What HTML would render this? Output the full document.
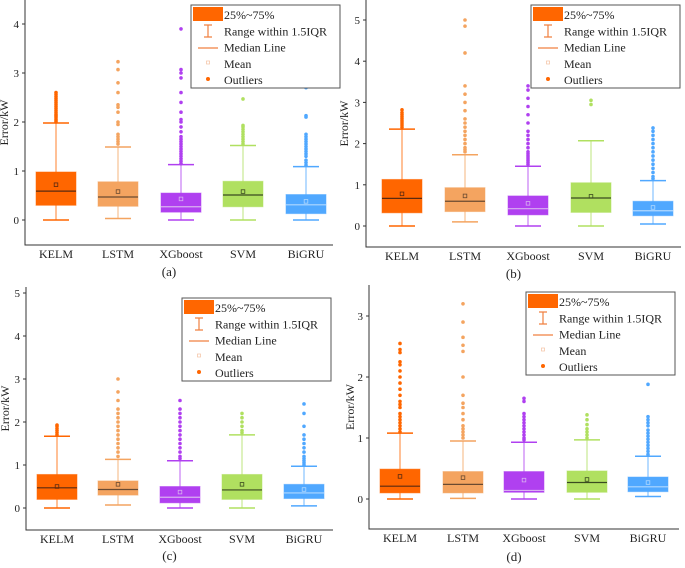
<!DOCTYPE html>
<html><head><meta charset="utf-8">
<style>
html,body{margin:0;padding:0;background:#fff;}
svg{display:block;font-family:"Liberation Serif",serif;}
</style></head>
<body>
<svg id="fig" width="685" height="568" viewBox="0 0 685 568"></svg>
<script>
const categories = ["KELM","LSTM","XGboost","SVM","BiGRU"];
const colors = ["#ff6600","#f4a460","#b040f0","#b0e060","#50a8ff"];
const medianColors = ["#5a2a10","#6a4a30","#d8b0f0","#3a4a20","#b0d8ff"];
const yTicksA = [0,1,2,3,4];
const yTicksB = [0,1,2,3,4,5];
const yTicksC = [0,1,2,3,4,5];
const yTicksD = [0,1,2,3];
// stats per category: [q1, median, q3, mean, whiskerLow, whiskerHigh]
const statsA = [[0.30,0.59,0.98,0.72,0,1.98],[0.28,0.47,0.78,0.58,0.03,1.49],[0.16,0.27,0.55,0.43,0,1.13],[0.27,0.51,0.79,0.58,0,1.52],[0.13,0.31,0.52,0.38,0,1.09]];
const statsB = [[0.32,0.67,1.13,0.78,0,2.35],[0.35,0.60,0.93,0.73,0.10,1.73],[0.27,0.42,0.73,0.55,0,1.45],[0.33,0.68,1.05,0.72,0,2.07],[0.25,0.37,0.60,0.45,0.05,1.10]];
const statsC = [[0.20,0.47,0.78,0.50,0,1.67],[0.30,0.43,0.63,0.55,0.07,1.13],[0.12,0.25,0.50,0.37,0,1.10],[0.20,0.42,0.78,0.55,0,1.70],[0.22,0.35,0.55,0.43,0.05,0.97]];
const statsD = [[0.10,0.21,0.49,0.37,0,1.08],[0.10,0.24,0.45,0.35,0.01,0.95],[0.11,0.14,0.45,0.31,0,0.93],[0.11,0.27,0.46,0.32,0,0.97],[0.12,0.20,0.36,0.27,0.04,0.70]];
const outliersA = [
 [2.0,2.03,2.06,2.1,2.13,2.16,2.2,2.24,2.28,2.32,2.36,2.4,2.44,2.48,2.52,2.56,2.6],
 [1.55,1.6,1.65,1.7,1.75,1.95,2.0,2.2,2.3,2.35,2.6,2.8,3.07,3.23],
 [1.15,1.2,1.25,1.3,1.35,1.4,1.45,1.5,1.55,1.6,1.65,1.7,1.8,1.9,2.0,2.05,2.2,2.4,2.6,2.9,3.0,3.07,3.9],
 [1.55,1.6,1.65,1.7,1.75,1.8,1.85,1.9,1.93,2.47],
 [1.12,1.17,1.22,1.3,1.35,1.4,1.45,1.5,1.55,1.6,1.65,1.7,1.75,2.1,2.13,2.7]];
const outliersB = [
 [2.4,2.45,2.5,2.55,2.6,2.65,2.7,2.75,2.82],
 [1.8,1.85,1.9,2.0,2.1,2.2,2.3,2.4,2.5,2.6,2.8,3.0,3.2,3.4,4.2,4.85,5.0],
 [1.5,1.55,1.6,1.65,1.7,1.75,1.8,1.9,2.0,2.1,2.2,2.3,2.5,2.7,2.9,3.1,3.3,3.4],
 [2.95,3.05],
 [1.15,1.2,1.3,1.4,1.5,1.6,1.7,1.8,1.9,2.0,2.1,2.2,2.3,2.38]];
const outliersC = [
 [1.7,1.75,1.8,1.85,1.9,1.93],
 [1.2,1.3,1.4,1.5,1.6,1.7,1.8,1.9,2.0,2.1,2.2,2.3,2.5,2.7,3.0],
 [1.15,1.2,1.3,1.4,1.5,1.6,1.7,1.8,1.9,2.0,2.1,2.2,2.3,2.5],
 [1.75,1.8,1.9,2.0,2.1,2.2],
 [1.0,1.05,1.1,1.15,1.2,1.3,1.4,1.5,1.6,1.7,1.9,2.2,2.42]];
const outliersD = [
 [1.1,1.15,1.2,1.25,1.3,1.35,1.4,1.5,1.55,1.6,1.7,1.8,1.9,2.0,2.1,2.2,2.25,2.4,2.45,2.55],
 [1.0,1.05,1.1,1.15,1.2,1.3,1.4,1.5,1.57,1.7,2.0,2.42,2.52,2.65,2.9,3.2],
 [0.97,1.0,1.05,1.1,1.15,1.2,1.25,1.3,1.35,1.4,1.6,1.65],
 [1.0,1.05,1.1,1.15,1.22,1.3,1.38],
 [0.73,0.78,0.83,0.88,0.93,0.98,1.03,1.08,1.13,1.2,1.25,1.3,1.35,1.88]];

const NS="http://www.w3.org/2000/svg";
const svg=document.getElementById('fig');
function mk(tag,attrs,parent){const e=document.createElementNS(NS,tag);for(const k in attrs)e.setAttribute(k,attrs[k]);(parent||svg).appendChild(e);return e;}

const panels=[
 {id:"a",left:25,right:333,top:0,bottom:245,y0:220,ppu:49,xs:[56,118,181,243,306],ticks:yTicksA,stats:statsA,out:outliersA,bw:40,legend:[191,5],labelY:258,capY:276,titleX:4},
 {id:"b",left:366,right:681,top:0,bottom:247,y0:226,ppu:41.2,xs:[402,465,528,591,653],ticks:yTicksB,stats:statsB,out:outliersB,bw:40,legend:[531,5],labelY:260,capY:278,titleX:344},
 {id:"c",left:26,right:333,top:287,bottom:530,y0:508,ppu:43,xs:[57,118,180,242,304],ticks:yTicksC,stats:statsC,out:outliersC,bw:40,legend:[182,298],labelY:543,capY:560,titleX:5},
 {id:"d",left:369,right:679,top:285,bottom:529,y0:499,ppu:61,xs:[400,463,524,587,648],ticks:yTicksD,stats:statsD,out:outliersD,bw:40,legend:[526,292],labelY:542,capY:561,titleX:350}
];

panels.forEach(p=>{
 const g=mk('g',{});
 
 
 const Y=v=>p.y0-v*p.ppu;
 const ax=mk('path',{d:`M${p.left},${p.top} V${p.bottom} H${p.right}`,stroke:'#333',fill:'none','stroke-width':1},g);
 
 
 p.ticks.forEach(t=>{
  mk('line',{x1:p.left-3,x2:p.left,y1:Y(t),y2:Y(t),stroke:'#333'},g);
  const tl=mk('text',{x:p.left-6,y:Y(t)+4,'text-anchor':'end','font-size':11,fill:'#222'},g);
  tl.textContent=t;
  
  
 });
 const tx=p.titleX+4, ty=(p.top+p.bottom)/2;
 const yt=mk('text',{x:tx,y:ty,'text-anchor':'middle','font-size':12,fill:'#222',transform:`rotate(-90 ${tx} ${ty})`},g);
 yt.textContent='Error/kW';
 
 
 categories.forEach((c,i)=>{
  const x=p.xs[i], s=p.stats[i], col=colors[i], hw=p.bw/2;
  mk('line',{x1:x,x2:x,y1:Y(s[4]),y2:Y(s[5]),stroke:col,'stroke-opacity':0.55,'stroke-width':1.5},g);
  mk('line',{x1:x-13,x2:x+13,y1:Y(s[4]),y2:Y(s[4]),stroke:col,'stroke-width':1.5},g);
  mk('line',{x1:x-13,x2:x+13,y1:Y(s[5]),y2:Y(s[5]),stroke:col,'stroke-width':1.5},g);
  const b=mk('rect',{x:x-hw,y:Y(s[2]),width:p.bw,height:Y(s[0])-Y(s[2]),fill:col,stroke:col,'stroke-opacity':0.5},g);
  
  
  mk('line',{x1:x-hw,x2:x+hw,y1:Y(s[1]),y2:Y(s[1]),stroke:medianColors[i],'stroke-width':1.2},g);
  mk('rect',{x:x-1.8,y:Y(s[3])-1.8,width:3.6,height:3.6,fill:'none',stroke:medianColors[i],'stroke-width':0.8},g);
  p.out[i].forEach(v=>{
   const o=mk('circle',{cx:x,cy:Y(v),r:1.8,fill:col},g);
   
   
  });
  const xl=mk('text',{x:x,y:p.labelY,'text-anchor':'middle','font-size':12,fill:'#222'},g);
  xl.textContent=c;
  
  
 });
 const cap=mk('text',{x:(p.left+p.right)/2-10,y:p.capY,'text-anchor':'middle','font-size':13,fill:'#222'},g);
 cap.textContent='('+p.id+')';
 
 
 const [lx,ly]=p.legend;
 const lg=mk('g',{},g);
 
 
 mk('rect',{x:lx,y:ly,width:149,height:83,fill:'#fff',stroke:'#555','stroke-width':1},lg);
 mk('rect',{x:lx+2,y:ly+2,width:30,height:14,fill:'#ff6600'},lg);
 const ex=lx+17;
 mk('path',{d:`M${ex-4},${ly+20} H${ex+4} M${ex},${ly+20} V${ly+32} M${ex-4},${ly+32} H${ex+4}`,stroke:'#f08040',fill:'none','stroke-width':1.2},lg);
 mk('line',{x1:ex-10,x2:ex+10,y1:ly+43,y2:ly+43,stroke:'#f08040','stroke-width':1.2},lg);
 mk('rect',{x:ex-1.5,y:ly+56,width:3,height:3,fill:'none',stroke:'#f4c0a0','stroke-width':0.7},lg);
 mk('circle',{cx:ex,cy:ly+74,r:2,fill:'#ff6600'},lg);
 ["25%~75%","Range within 1.5IQR","Median Line","Mean","Outliers"].forEach((t,k)=>{
  const lt=mk('text',{x:lx+33,y:ly+14+k*16.3,'font-size':12,fill:'#222'},lg);
  lt.textContent=t;
  
  
 });
});
</script>
</body></html>
